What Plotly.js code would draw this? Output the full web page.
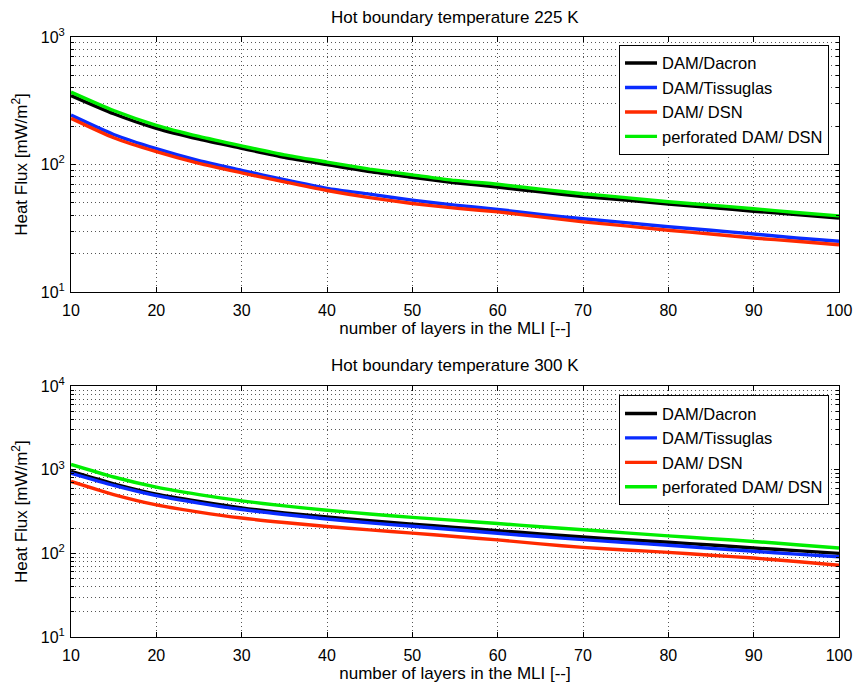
<!DOCTYPE html>
<html>
<head>
<meta charset="utf-8">
<script src="https://cdn.plot.ly/plotly-3.0.1.min.js"></script>
<style>html,body{margin:0;padding:0;background:#fff;}#chart{width:855px;height:691px;}</style>
</head>
<body>
<div id="chart"></div>
<script>
// number of layers
const layers = [10,15,20,25,30,35,40,45,50,55,60,65,70,75,80,85,90,95,100];

// Hot boundary 225 K  (heat flux, mW/m^2)
const t225_dacron     = [347,250,192,158,134,114,100,88,79.5,72,66.5,61,56,52.5,49,46,43,40.5,38];
const t225_tissuglas  = [244,172,133,107,90,76,65,58.5,52.5,48,44.5,40.5,37.5,35,32.5,30.5,28.5,26.5,25];
const t225_dsn        = [230,162,126,102,86,73,62.5,55,49.5,45.5,42.5,38.8,35.5,33,30.5,28.5,26.5,25,23.5];
const t225_perfdsn    = [370,265,203,166,140,119,104.5,92,83,75,70,64,59,55,51,48,45,42,39.5];

// Hot boundary 300 K
const t300_dacron     = [955,680,511,418,350,305,273,246,224,205,187,171,157,146,136,126,116,108,100];
const t300_tissuglas  = [908,650,490,400,335,292,258,232,211,192,174,159,146,135,125,115,106,98,91];
const t300_dsn        = [725,505,380,312,265,234,210,191,175,159,145,130,118,110,103,95,88,80,72];
const t300_perfdsn    = [1160,820,620,505,425,370,328,296,270,248,228,208,192,176,162,150,139,127,116];

const seriesNames = ["DAM/Dacron","DAM/Tissuglas","DAM/ DSN","perforated DAM/ DSN"];
const seriesColors = ["#000000","#0a2cff","#ff2a00","#00ee00"];
const titles = ["Hot boundary temperature 225 K","Hot boundary temperature 300 K"];
const xTitle = "number of layers in the MLI [--]";
const yTitle = "Heat Flux [mW/m<sup>2</sup>]";
const xTicks = [10,20,30,40,50,60,70,80,90,100];

function logTicks(d0, d1){
  const major = [], txt = [], minor = [];
  for (let d = d0; d <= d1; d++){
    major.push(Math.pow(10, d));
    txt.push("10<sup>" + d + "</sup>");
    if (d < d1) for (let m = 2; m <= 9; m++) minor.push(m * Math.pow(10, d));
  }
  return {major, txt, minor};
}

const panelTop = [t225_dacron, t225_tissuglas, t225_dsn, t225_perfdsn];
const panelBot = [t300_dacron, t300_tissuglas, t300_dsn, t300_perfdsn];
const traces = [];
panelTop.forEach((y,i)=>traces.push({x:layers,y:y,name:seriesNames[i],type:"scatter",mode:"lines",
  line:{color:seriesColors[i],width:3.4,shape:"spline",smoothing:0.6},xaxis:"x",yaxis:"y",legend:"legend"}));
panelBot.forEach((y,i)=>traces.push({x:layers,y:y,name:seriesNames[i],type:"scatter",mode:"lines",
  line:{color:seriesColors[i],width:3.4,shape:"spline",smoothing:0.6},xaxis:"x2",yaxis:"y2",legend:"legend2"}));

const FONT = "Liberation Sans, Arial, Helvetica, sans-serif";
const t1 = logTicks(1,3), t2 = logTicks(1,4);

const xbase = {range:[10,100], tickmode:"array", tickvals:xTicks, ticks:"inside", ticklen:5, tickcolor:"#000",
  showline:true, linecolor:"#000", linewidth:1, mirror:"ticks", showgrid:true, gridcolor:"#555",
  griddash:"1px,3px", gridwidth:1, zeroline:false, tickfont:{size:16,color:"#000"}, ticklabelstandoff:4,
  title:{text:xTitle, font:{size:17,color:"#000"}, standoff:2}};
const ybase = {type:"log", tickmode:"array", ticks:"inside", ticklen:5, tickcolor:"#000",
  showline:true, linecolor:"#000", linewidth:1, mirror:"ticks", showgrid:true, gridcolor:"#555",
  griddash:"1px,3px", gridwidth:1, zeroline:false, tickfont:{size:16,color:"#000"}, ticklabelstandoff:2,
  title:{text:yTitle, font:{size:17,color:"#000"}, standoff:8}};

function minorOf(vals){
  return {tickmode:"array", tickvals:vals, ticks:"inside", ticklen:3, tickcolor:"#000",
    showgrid:true, gridcolor:"#555", griddash:"1px,3px", gridwidth:1};
}

const layout = {
  width:855, height:691,
  margin:{l:71, r:16, t:37, b:54},
  paper_bgcolor:"#fff", plot_bgcolor:"#fff",
  font:{family:FONT, color:"#000"},
  showlegend:true,
  xaxis:Object.assign({}, xbase, {domain:[0,1], anchor:"y"}),
  yaxis:Object.assign({}, ybase, {domain:[0.575,1], anchor:"x", range:[1,3], tickvals:t1.major, ticktext:t1.txt, minor:minorOf(t1.minor)}),
  xaxis2:Object.assign({}, xbase, {domain:[0,1], anchor:"y2"}),
  yaxis2:Object.assign({}, ybase, {domain:[0,0.418], anchor:"x2", range:[1,4], tickvals:t2.major, ticktext:t2.txt, minor:minorOf(t2.minor)}),
  legend:{x:0.987, xanchor:"right", y:0.987, yanchor:"top", bgcolor:"#fff", bordercolor:"#000", borderwidth:1,
    font:{size:16.5,color:"#000"}, tracegroupgap:0, itemwidth:32},
  legend2:{x:0.987, xanchor:"right", y:0.403, yanchor:"top", bgcolor:"#fff", bordercolor:"#000", borderwidth:1,
    font:{size:16.5,color:"#000"}, tracegroupgap:0, itemwidth:32},
  annotations:[
    {text:titles[0], xref:"paper", yref:"paper", x:0.5, y:1.033, xanchor:"center", yanchor:"middle", showarrow:false, font:{size:17,color:"#000"}},
    {text:titles[1], xref:"paper", yref:"paper", x:0.5, y:0.453, xanchor:"center", yanchor:"middle", showarrow:false, font:{size:17,color:"#000"}}
  ]
};

Plotly.newPlot("chart", traces, layout, {displayModeBar:false, staticPlot:true});
</script>
</body>
</html>
